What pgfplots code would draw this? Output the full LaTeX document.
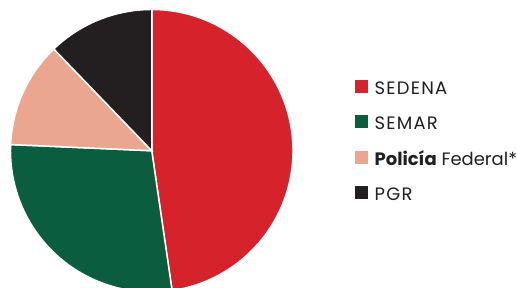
\documentclass[border=0pt]{standalone}
\usepackage{pgfplots}
\usepackage{pgfplotstable}
\pgfplotsset{compat=1.18}
\usepackage{fontspec}
\setmainfont{Poppins}
\definecolor{sedena}{HTML}{D6222B}
\definecolor{semar}{HTML}{0A5E3F}
\definecolor{pf}{HTML}{EBA690}
\definecolor{pgr}{HTML}{231F20}
\definecolor{txt}{HTML}{231F20}
\newcommand{\caps}[1]{{\addfontfeatures{LetterSpace=7}#1}}

\pgfplotstableread{
label value
SEDENA 47.7
SEMAR 28.0
PF 12.1
PGR 12.2
}\piedata

\pgfplotstablegetelem{0}{value}\of\piedata \let\va\pgfplotsretval
\pgfplotstablegetelem{1}{value}\of\piedata \let\vb\pgfplotsretval
\pgfplotstablegetelem{2}{value}\of\piedata \let\vc\pgfplotsretval
\pgfplotstablegetelem{3}{value}\of\piedata \let\vd\pgfplotsretval
\pgfmathsetmacro{\aA}{90}
\pgfmathsetmacro{\aB}{\aA-3.6*\va}
\pgfmathsetmacro{\aC}{\aB-3.6*\vb}
\pgfmathsetmacro{\aD}{\aC-3.6*\vc}
\pgfmathsetmacro{\aE}{\aD-3.6*\vd}

\begin{document}
\begin{tikzpicture}
\begin{axis}[
  scale only axis, width=517pt, height=288pt,
  xmin=0, xmax=517, ymin=0, ymax=288,
  hide axis, clip=true,
  legend style={at={(axis cs:356,208)}, anchor=north west, draw=none, fill=none,
    inner sep=0pt, outer sep=0pt,
    font=\fontsize{18}{20}\selectfont\color{txt}, row sep=21pt,
    nodes={inner xsep=0pt, inner ysep=0pt, outer sep=0pt, text height=13pt, text depth=0pt}},
  legend cell align=left,
  legend image code/.code={\fill[#1,draw=none] (0pt,-5pt) rectangle (13pt,8pt); \path (19pt,0pt);},
]
\path (axis cs:0,0) rectangle (axis cs:517,288);
\fill[sedena, draw=white, line width=1.5pt] (axis cs:152,137) -- ++(\aA:141.5pt) arc[start angle=\aA, end angle=\aB, radius=141.5pt] -- cycle;
\fill[semar, draw=white, line width=1.5pt] (axis cs:152,137) -- ++(\aB:141.5pt) arc[start angle=\aB, end angle=\aC, radius=141.5pt] -- cycle;
\fill[pf, draw=white, line width=1.5pt] (axis cs:152,137) -- ++(\aC:141.5pt) arc[start angle=\aC, end angle=\aD, radius=141.5pt] -- cycle;
\fill[pgr, draw=white, line width=1.5pt] (axis cs:152,137) -- ++(\aD:141.5pt) arc[start angle=\aD, end angle=\aE, radius=141.5pt] -- cycle;
\addlegendimage{fill=sedena}
\addlegendentry{\caps{SEDENA}}
\addlegendimage{fill=semar}
\addlegendentry{\caps{SEMAR}}
\addlegendimage{fill=pf}
\addlegendentry{\textbf{Policía} Federal*}
\addlegendimage{fill=pgr}
\addlegendentry{\caps{PGR}}
\end{axis}
\end{tikzpicture}
\end{document}
